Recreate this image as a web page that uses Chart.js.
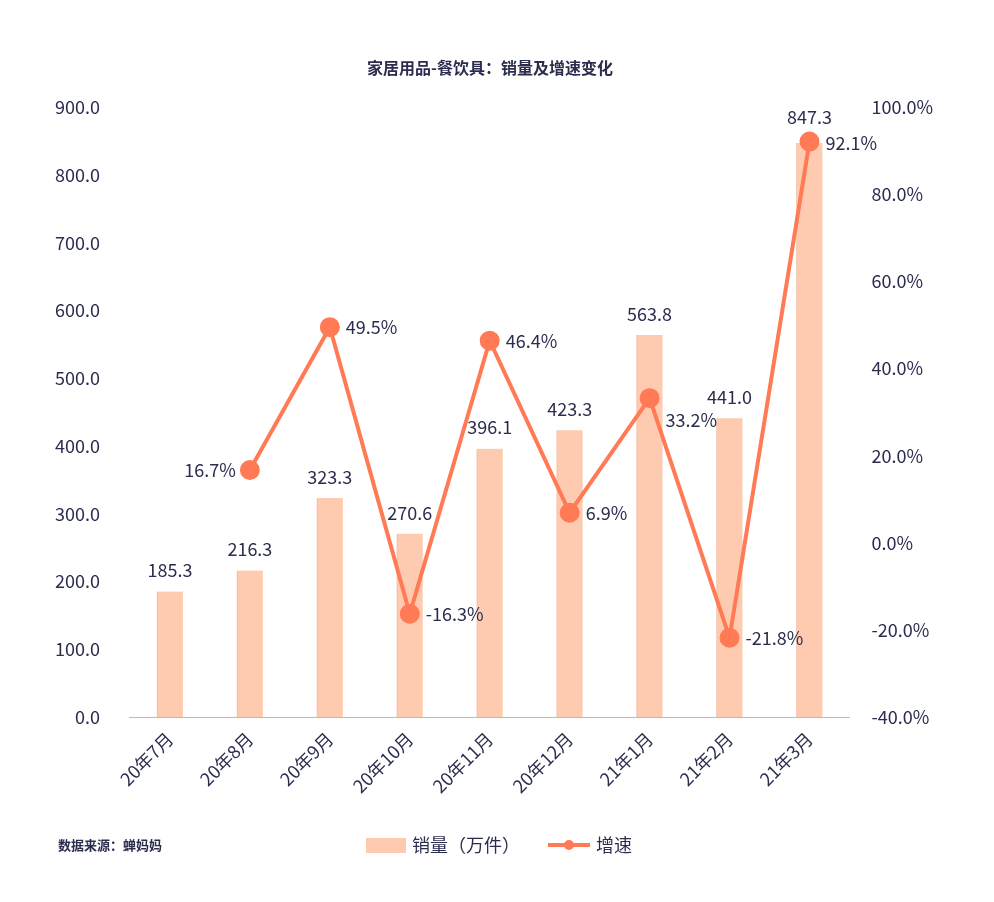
<!DOCTYPE html>
<html><head><meta charset="utf-8">
<script src="https://cdn.jsdelivr.net/npm/chart.js@4.4.0/dist/chart.umd.min.js"></script>
<style>html,body{margin:0;padding:0;background:#fff}#w{width:994px;height:902px;position:relative}</style>
</head><body><div id="w"><canvas id="c"></canvas></div>
<script>
const categories=["20年7月","20年8月","20年9月","20年10月","20年11月","20年12月","21年1月","21年2月","21年3月"];
const sales=[185.3,216.3,323.3,270.6,396.1,423.3,563.8,441.0,847.3];
const growth=[null,16.7,49.5,-16.3,46.4,6.9,33.2,-21.8,92.1];
const FONT="'Noto Sans CJK SC','Noto Sans',sans-serif";
const TXT="#2b2d4e";
const labelPlugin={id:'lbl',afterDatasetsDraw(ch){
 const ctx=ch.ctx;ctx.save();ctx.font="18px "+FONT;ctx.fillStyle=TXT;
 const m0=ch.getDatasetMeta(0),m1=ch.getDatasetMeta(1);
 m0.data.forEach((b,i)=>{ctx.textAlign='center';ctx.textBaseline='bottom';ctx.fillText(sales[i].toFixed(1),b.x,b.y-(i===8?17:12));});
 m1.data.forEach((p,i)=>{if(growth[i]==null)return;const t=growth[i].toFixed(1)+'%';ctx.textBaseline='middle';
  let dy=0;if(i===6)dy=22;if(i===8)dy=2;
  if(i===1){ctx.textAlign='right';ctx.fillText(t,p.x-14,p.y);}else{ctx.textAlign='left';ctx.fillText(t,p.x+16,p.y+dy);}});
 ctx.restore();}};
const extra={id:'extra',afterDraw(ch){const c=ch.ctx;c.save();
 c.font="bold 13px "+FONT;c.fillStyle=TXT;c.textBaseline='middle';c.textAlign='left';c.fillText('数据来源：蝉妈妈',58,845);
 c.fillStyle='#ffcbb0';c.fillRect(366,838,40,15);
 c.font="18px "+FONT;c.fillStyle=TXT;c.fillText('销量（万件）',412,845);
 c.strokeStyle='#ff7a55';c.lineWidth=4;c.beginPath();c.moveTo(548,845);c.lineTo(590,845);c.stroke();
 c.fillStyle='#ff7a55';c.beginPath();c.arc(569,845,5,0,Math.PI*2);c.fill();
 c.fillStyle=TXT;c.fillText('增速',596,845);
 c.restore();}};
new Chart(document.getElementById('c'),{
 data:{labels:categories,datasets:[
  {type:'bar',label:'销量（万件）',data:sales,backgroundColor:'#ffcbb0',borderColor:'#f0b89c',borderWidth:{left:1,right:0,top:0,bottom:0},barThickness:26,yAxisID:'y',order:2},
  {type:'line',label:'增速',data:growth,borderColor:'#ff7a55',backgroundColor:'#ff7a55',borderWidth:4,pointRadius:8,pointHoverRadius:8,yAxisID:'y1',order:1,spanGaps:false}
 ]},
 options:{responsive:true,maintainAspectRatio:false,animation:false,
  layout:{padding:{left:33,right:47,top:20,bottom:102}},
  plugins:{title:{display:true,text:'家居用品-餐饮具：销量及增速变化',color:TXT,font:{family:FONT,size:16,weight:'bold'},padding:{top:38,bottom:30}},
   legend:{display:false},tooltip:{enabled:false}},
  scales:{
   x:{grid:{display:false},border:{color:'#bbb'},ticks:{color:TXT,font:{family:FONT,size:18},maxRotation:45,minRotation:45}},
   y:{min:0,max:900,grid:{display:false},border:{display:false},ticks:{stepSize:100,color:TXT,font:{family:FONT,size:18},padding:22,callback:v=>v.toFixed(1)}},
   y1:{position:'right',min:-40,max:100,grid:{display:false},border:{display:false},ticks:{stepSize:20,color:TXT,font:{family:FONT,size:18},padding:14,callback:v=>v.toFixed(1)+'%'}}
  }},
 plugins:[labelPlugin,extra]
});
</script></body></html>
